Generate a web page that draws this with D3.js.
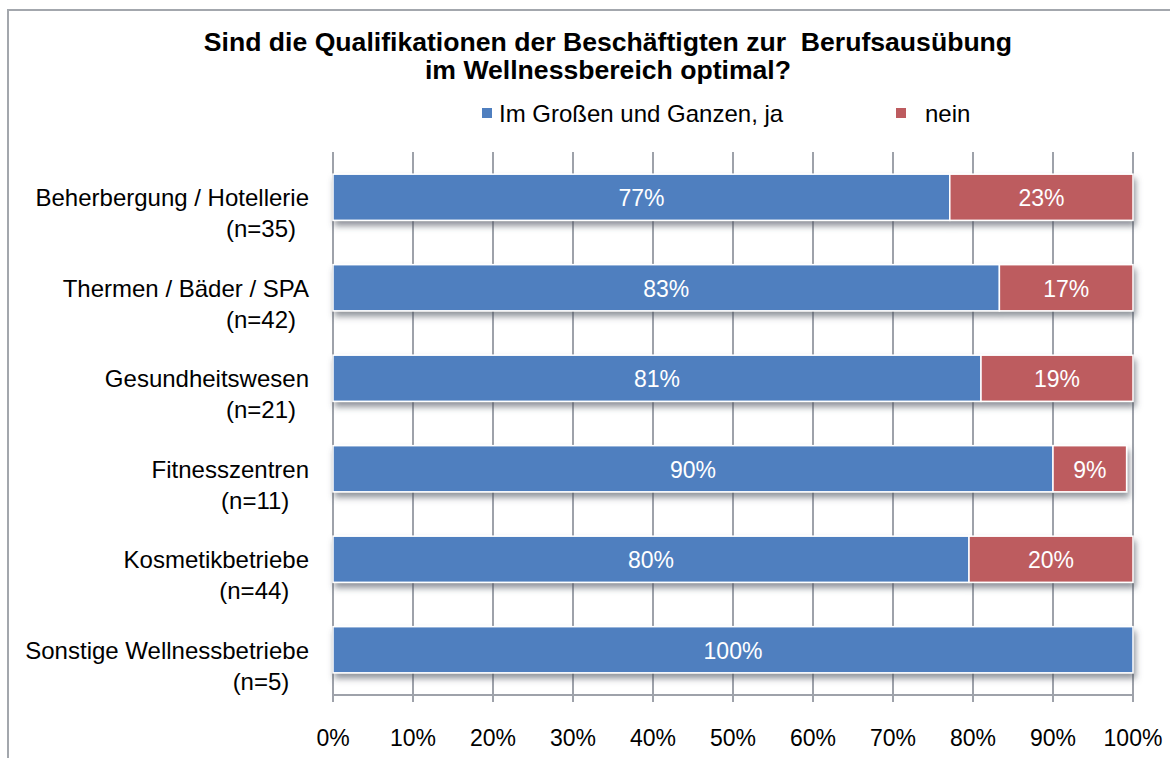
<!DOCTYPE html>
<html><head><meta charset="utf-8">
<script src="https://cdn.jsdelivr.net/npm/d3@7"></script>
<style>body{margin:0;background:#fff}svg{display:block;font-family:"Liberation Sans",Arial,sans-serif}</style>
</head><body>
<svg id="c" width="1170" height="758"></svg>
<script>
const categories = ["Beherbergung / Hotellerie","Thermen / Bäder / SPA","Gesundheitswesen","Fitnesszentren","Kosmetikbetriebe","Sonstige Wellnessbetriebe"];
const sampleSizes = ["(n=35)","(n=42)","(n=21)","(n=11)\u00a0","(n=44)\u00a0","(n=5)\u00a0"];
const yesValues = [77.1, 83.3, 81.0, 90.0, 79.5, 100];
const noValues  = [22.9, 16.7, 19.0, 9.2, 20.5, 0];
const yesLabels = ["77%","83%","81%","90%","80%","100%"];
const noLabels  = ["23%","17%","19%","9%","20%",""];
const seriesNames = ["Im Großen und Ganzen, ja","nein"];
const xTicks = [0,10,20,30,40,50,60,70,80,90,100];
const titleLines = ["Sind die Qualifikationen der Beschäftigten zur\u00a0 Berufsausübung","im Wellnessbereich optimal?"];

const colors = ["#4F7FBF","#BD5B5F"];
const gridColor = "#9ea2aa";
const svg = d3.select("#c");

const defs = svg.append("defs");
const f = defs.append("filter").attr("id","sh").attr("x","-5%").attr("y","-30%").attr("width","115%").attr("height","200%");
f.append("feDropShadow").attr("dx",2).attr("dy",5).attr("stdDeviation",3).attr("flood-color","#4a4f5a").attr("flood-opacity",0.6);

// outer frame
svg.append("path").attr("d","M8,758 L8,10 L1170,10").attr("fill","none").attr("stroke","#a3a7ad").attr("stroke-width",2);

const pL = 333, pR = 1133, pT = 152, pB = 695;
const x = d3.scaleLinear().domain([0,100]).range([pL,pR]);
const y = d3.scaleBand().domain(categories).range([pT,pB]).paddingInner(0.49).paddingOuter(0.245);

// title
svg.append("g").selectAll("text").data(titleLines).join("text")
  .attr("x",608).attr("y",(d,i)=>51+i*28).attr("text-anchor","middle")
  .attr("font-size",26.6).attr("font-weight","bold").attr("fill","#000").text(d=>d);

// legend
const legX = [482, 896];
const lg = svg.append("g").selectAll("g").data(seriesNames).join("g");
lg.append("rect").attr("x",(d,i)=>legX[i]).attr("y",108).attr("width",10).attr("height",10).attr("fill",(d,i)=>colors[i]);
lg.append("text").attr("x",(d,i)=>legX[i]+(i==0?17:29)).attr("y",122).attr("font-size",24).attr("fill","#000").text(d=>d);

// gridlines
svg.append("g").selectAll("line").data(xTicks).join("line")
  .attr("x1",d=>x(d)).attr("x2",d=>x(d)).attr("y1",pT).attr("y2",pB+7)
  .attr("stroke",gridColor).attr("stroke-width",2);
svg.append("line").attr("x1",pL).attr("x2",pR).attr("y1",pB).attr("y2",pB).attr("stroke",gridColor).attr("stroke-width",2);

// bars
const stack = categories.map((c,i)=>({c, segs:[
  {s:0,x0:0,x1:yesValues[i],lab:yesLabels[i]},
  {s:1,x0:yesValues[i],x1:yesValues[i]+noValues[i],lab:noLabels[i]}
].filter(s=>s.x1>s.x0)}));

const rows = svg.append("g").selectAll("g").data(stack).join("g");
rows.append("g").attr("filter","url(#sh)").selectAll("rect").data(d=>d.segs.map(s=>({...s,c:d.c}))).join("rect")
  .attr("x",d=>x(d.x0)).attr("width",d=>x(d.x1)-x(d.x0))
  .attr("y",d=>y(d.c)).attr("height",y.bandwidth())
  .attr("fill",d=>colors[d.s]).attr("stroke","#fff").attr("stroke-width",1.5);
rows.selectAll("text.v").data(d=>d.segs.map(s=>({...s,c:d.c}))).join("text").attr("class","v")
  .attr("x",d=>(x(d.x0)+x(d.x1))/2).attr("y",d=>y(d.c)+y.bandwidth()/2+9)
  .attr("text-anchor","middle").attr("font-size",23).attr("fill","#fff").text(d=>d.lab);

// category labels
const cl = svg.append("g").selectAll("g").data(categories).join("g");
cl.append("text").attr("x",309).attr("y",d=>y(d)+y.bandwidth()/2+9).attr("text-anchor","end")
  .attr("font-size",24).attr("fill","#000").text(d=>d);
cl.append("text").attr("x",296).attr("y",(d,i)=>y(d)+y.bandwidth()/2+40).attr("text-anchor","end")
  .attr("font-size",24).attr("fill","#000").style("white-space","pre").text((d,i)=>sampleSizes[i]);

// x tick labels
svg.append("g").selectAll("text").data(xTicks).join("text")
  .attr("x",d=>x(d)).attr("y",746).attr("text-anchor","middle")
  .attr("font-size",23).attr("fill","#000").text(d=>d+"%");
</script>
</body></html>
